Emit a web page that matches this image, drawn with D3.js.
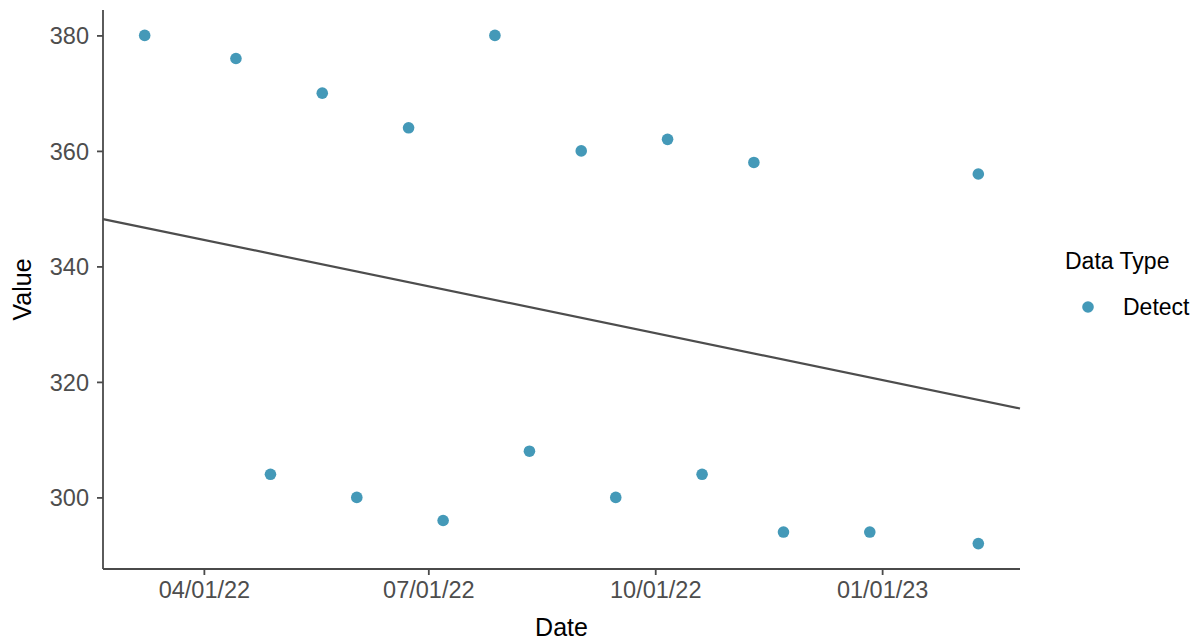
<!DOCTYPE html>
<html>
<head>
<meta charset="utf-8">
<script src="https://cdn.jsdelivr.net/npm/d3@7"></script>
<style>
  html, body { margin: 0; padding: 0; background: #fff; }
  svg { display: block; font-family: "Liberation Sans", Arial, sans-serif; }
</style>
</head>
<body>
<svg id="chart" width="1199" height="642"></svg>
<script>
// ---- data ----
const dates = ["2022-03-08","2022-04-14","2022-04-28","2022-05-19","2022-06-02","2022-06-23",
               "2022-07-07","2022-07-28","2022-08-11","2022-09-01","2022-09-15","2022-10-06",
               "2022-10-20","2022-11-10","2022-11-22","2022-12-27","2023-02-09","2023-02-09"];
const values = [380, 376, 304, 370, 300, 364, 296, 380, 308, 360, 300, 362, 304, 358, 294, 294, 356, 292];
const dataTypes = ["Detect"];
// trend line value at the left and right edges of the panel
const trendValues = [348.2, 315.4];
const yTicks = [300, 320, 340, 360, 380];
const xTickDates = ["2022-04-01","2022-07-01","2022-10-01","2023-01-01"];
const xTickLabels = ["04/01/22","07/01/22","10/01/22","01/01/23"];

// ---- layout ----
const svg = d3.select("#chart");
const panel = { left: 103, right: 1020, top: 10, bottom: 569 };
const pointColor = "#4499b8";
const axisColor = "#4a4a4a";

const parse = d3.utcParse("%Y-%m-%d");
const pts = dates.map((d, i) => ({ date: parse(d), value: values[i] }));

const xExt = d3.extent(pts, d => d.date);
const xPad = (xExt[1] - xExt[0]) * 0.05;
const x = d3.scaleUtc()
  .domain([new Date(+xExt[0] - xPad), new Date(+xExt[1] + xPad)])
  .range([panel.left, panel.right]);

const yExt = d3.extent(values);
const yPad = (yExt[1] - yExt[0]) * 0.05;
const y = d3.scaleLinear()
  .domain([yExt[0] - yPad, yExt[1] + yPad])
  .range([panel.bottom, panel.top]);

// ---- trend line over full range ----
const fitLine = x.domain().map((d, i) => ({ date: d, value: trendValues[i] }));
svg.append("path")
  .datum(fitLine)
  .attr("fill", "none")
  .attr("stroke", "#4d4d4d")
  .attr("stroke-width", 2.2)
  .attr("d", d3.line().x(d => x(d.date)).y(d => y(d.value)));

// ---- points ----
svg.append("g").selectAll("circle")
  .data(pts)
  .join("circle")
  .attr("cx", d => x(d.date))
  .attr("cy", d => y(d.value))
  .attr("r", 5.8)
  .attr("fill", pointColor);

// ---- axes ----
const xAxis = d3.axisBottom(x)
  .tickValues(xTickDates.map(parse))
  .tickFormat((d, i) => xTickLabels[i])
  .tickSize(6).tickPadding(5);
const gx = svg.append("g").attr("transform", `translate(0,${panel.bottom})`).call(xAxis);
gx.select(".domain").attr("d", `M${panel.left},0H${panel.right}`);

const yAxis = d3.axisLeft(y).tickValues(yTicks).tickSize(6).tickPadding(8);
const gy = svg.append("g").attr("transform", `translate(${panel.left},0)`).call(yAxis);
gy.select(".domain").attr("d", `M0,${panel.top}V${panel.bottom}`);

[gx, gy].forEach(g => {
  g.select(".domain").attr("stroke", axisColor).attr("stroke-width", 1.8);
  g.selectAll(".tick line").attr("stroke", axisColor).attr("stroke-width", 1.8);
  g.selectAll(".tick text").attr("fill", "#4d4d4d").attr("font-size", 23.5)
    .attr("font-family", "'Liberation Sans', Arial, sans-serif");
});
gx.selectAll(".tick text").attr("dy", "0.72em").attr("y", 12);
gy.selectAll(".tick text").attr("dy", "0.35em").attr("x", -14);

// ---- axis titles ----
svg.append("text")
  .attr("x", (panel.left + panel.right) / 2).attr("y", 636)
  .attr("text-anchor", "middle").attr("font-size", 25).attr("fill", "#000")
  .text("Date");
svg.append("text")
  .attr("transform", `translate(31,${(panel.top + panel.bottom) / 2}) rotate(-90)`)
  .attr("text-anchor", "middle").attr("font-size", 25).attr("fill", "#000")
  .text("Value");

// ---- legend ----
const lg = svg.append("g");
lg.append("text").attr("x", 1065).attr("y", 269)
  .attr("font-size", 23).attr("fill", "#000").text("Data Type");
const items = lg.selectAll("g.item").data(dataTypes).join("g").attr("class", "item");
items.append("circle").attr("cx", 1088).attr("cy", (d, i) => 307 + i * 30)
  .attr("r", 5.8).attr("fill", pointColor);
items.append("text").attr("x", 1123).attr("y", (d, i) => 315 + i * 30)
  .attr("font-size", 23).attr("fill", "#000").text(d => d);
</script>
</body>
</html>
